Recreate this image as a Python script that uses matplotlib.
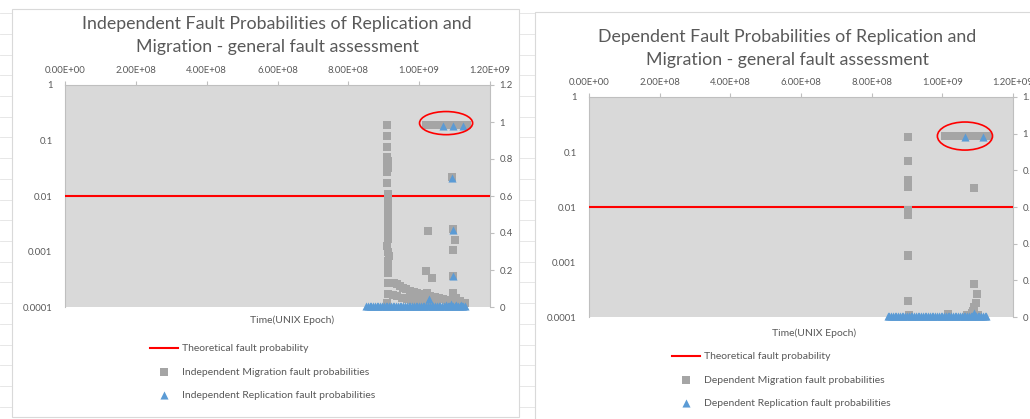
import numpy as np
import matplotlib.pyplot as plt
from matplotlib.patches import Ellipse, Rectangle

W, H = 1030, 419
plt.rcParams['font.family'] = ['Lato', 'DejaVu Sans']

# ---- axes values ----
theory_prob = 0.01
time_ticks = [0, 2e8, 4e8, 6e8, 8e8, 1e9, 1.2e9]
log_ticks = [1e-4, 1e-3, 1e-2, 1e-1, 1]
log_labels = ['0.0001', '0.001', '0.01', '0.1', '1']
prob_ticks = [0, 0.2, 0.4, 0.6, 0.8, 1.0, 1.2]
prob_labels = ['0', '0.2', '0.4', '0.6', '0.8', '1', '1.2']

# ---- independent migration (x = UNIX epoch, y = probability) ----
ind_mig_t = [9.08e8, 9.08e8, 9.10e8, 9.10e8, 9.11e8, 9.09e8, 9.11e8, 9.10e8, 9.10e8,
             9.12e8, 9.12e8, 9.11e8, 9.12e8, 9.11e8, 9.12e8, 9.12e8, 9.13e8, 9.12e8,
             9.12e8, 9.11e8, 9.10e8, 9.13e8, 9.14e8, 9.12e8, 9.13e8, 9.12e8, 9.12e8,
             9.22e8, 9.30e8, 9.37e8, 9.46e8, 9.55e8, 9.64e8, 9.74e8, 9.84e8, 9.93e8,
             1.004e9, 1.016e9, 1.030e9, 1.045e9, 1.057e9, 1.068e9, 1.078e9, 1.087e9,
             1.100e9, 1.115e9, 1.128e9,
             9.13e8, 9.25e8, 9.37e8, 9.51e8, 9.65e8, 9.80e8, 9.93e8, 1.012e9, 1.030e9, 1.050e9,
             9.10e8, 1.025e9, 1.019e9, 1.036e9, 1.022e9, 1.093e9, 1.096e9, 1.101e9, 1.095e9,
             1.095e9, 1.095e9, 1.105e9,
             1.018e9, 1.030e9, 1.042e9, 1.054e9, 1.066e9, 1.078e9, 1.090e9, 1.102e9,
             1.114e9, 1.126e9, 1.135e9]
ind_mig_p = [0.985, 0.925, 0.865, 0.81, 0.79, 0.77, 0.75, 0.73, 0.67,
             0.61, 0.585, 0.56, 0.53, 0.51, 0.48, 0.46, 0.44, 0.42,
             0.40, 0.37, 0.33, 0.295, 0.275, 0.25, 0.225, 0.185, 0.13,
             0.132, 0.128, 0.123, 0.114, 0.105, 0.096, 0.087, 0.08, 0.074,
             0.068, 0.063, 0.06, 0.056, 0.05, 0.045, 0.038, 0.033,
             0.033, 0.03, 0.02,
             0.069, 0.064, 0.06, 0.05, 0.042, 0.037, 0.033, 0.023, 0.018, 0.015,
             0.02, 0.41, 0.195, 0.157, 0.075, 0.70, 0.42, 0.36, 0.31,
             0.17, 0.075, 0.05,
             0.983, 0.983, 0.983, 0.983, 0.983, 0.983, 0.983, 0.983,
             0.983, 0.983, 0.983]

# ---- independent replication ----
ind_rep_t = [1.067e9, 1.095e9, 1.123e9, 1.093e9, 1.096e9, 1.095e9, 1.027e9,
             8.50e8, 8.55e8, 8.60e8, 8.65e8, 8.70e8, 8.75e8, 8.80e8, 8.85e8, 8.90e8, 8.95e8,
             9.00e8, 9.05e8, 9.10e8, 9.15e8, 9.20e8, 9.25e8, 9.30e8, 9.35e8, 9.40e8, 9.45e8,
             9.50e8, 9.55e8, 9.60e8, 9.65e8, 9.70e8, 9.75e8, 9.80e8, 9.85e8, 9.90e8, 9.95e8,
             1.000e9, 1.005e9, 1.010e9, 1.015e9, 1.020e9, 1.025e9, 1.030e9, 1.035e9,
             1.040e9, 1.045e9, 1.050e9, 1.055e9, 1.060e9, 1.065e9, 1.070e9, 1.075e9,
             1.080e9, 1.085e9, 1.090e9, 1.095e9, 1.100e9, 1.105e9, 1.110e9, 1.115e9,
             1.120e9, 1.125e9, 1.130e9,
             1.075e9, 1.090e9, 1.105e9, 1.118e9]
ind_rep_p = [0.98, 0.98, 0.98, 0.695, 0.418, 0.168, 0.045,
             0.003, 0.003, 0.003, 0.003, 0.003, 0.003, 0.003, 0.003, 0.003, 0.003,
             0.003, 0.003, 0.003, 0.003, 0.003, 0.003, 0.003, 0.003, 0.003, 0.003,
             0.003, 0.003, 0.003, 0.003, 0.003, 0.003, 0.003, 0.003, 0.003, 0.003,
             0.003, 0.003, 0.003, 0.003, 0.003, 0.003, 0.003, 0.003,
             0.003, 0.003, 0.003, 0.003, 0.003, 0.003, 0.003, 0.003,
             0.003, 0.003, 0.003, 0.003, 0.003, 0.003, 0.003, 0.003,
             0.003, 0.003, 0.003,
             0.012, 0.015, 0.012, 0.010]

# ---- dependent migration ----
dep_mig_t = [9.02e8, 9.02e8, 9.02e8, 9.03e8, 9.02e8, 9.02e8, 9.03e8, 9.02e8, 9.03e8,
             9.02e8, 9.04e8, 9.05e8,
             1.008e9, 1.020e9, 1.032e9, 1.044e9, 1.056e9, 1.068e9, 1.080e9, 1.092e9,
             1.104e9, 1.116e9, 1.128e9,
             1.090e9, 1.090e9, 1.097e9, 1.094e9, 1.090e9, 1.088e9, 1.085e9, 1.017e9,
             1.070e9, 1.100e9]
dep_mig_p = [0.983, 0.851, 0.747, 0.725, 0.711, 0.584, 0.57, 0.556, 0.34,
             0.334, 0.089, 0.01,
             0.987, 0.987, 0.987, 0.987, 0.987, 0.987, 0.987, 0.987,
             0.987, 0.987, 0.987,
             0.702, 0.18, 0.125, 0.078, 0.053, 0.035, 0.02, 0.015,
             0.01, 0.01]

# ---- dependent replication ----
dep_rep_t = [1.064e9, 1.116e9, 1.090e9,
             8.45e8, 8.50e8, 8.55e8, 8.60e8, 8.65e8, 8.70e8, 8.75e8, 8.80e8, 8.85e8, 8.90e8,
             8.95e8, 9.00e8, 9.05e8, 9.10e8, 9.15e8, 9.20e8, 9.25e8, 9.30e8, 9.35e8, 9.40e8,
             9.45e8, 9.50e8, 9.55e8, 9.60e8, 9.65e8, 9.70e8, 9.75e8, 9.80e8, 9.85e8, 9.90e8,
             9.95e8, 1.000e9, 1.005e9, 1.010e9, 1.015e9, 1.020e9, 1.025e9, 1.030e9,
             1.035e9, 1.040e9, 1.045e9, 1.050e9, 1.055e9, 1.060e9, 1.065e9, 1.070e9,
             1.075e9, 1.080e9, 1.085e9, 1.090e9, 1.095e9, 1.100e9, 1.105e9, 1.110e9,
             1.115e9, 1.120e9, 1.125e9]
dep_rep_p = [0.98, 0.98, 0.02,
             0.003, 0.003, 0.003, 0.003, 0.003, 0.003, 0.003, 0.003, 0.003, 0.003,
             0.003, 0.003, 0.003, 0.003, 0.003, 0.003, 0.003, 0.003, 0.003, 0.003,
             0.003, 0.003, 0.003, 0.003, 0.003, 0.003, 0.003, 0.003, 0.003, 0.003,
             0.003, 0.003, 0.003, 0.003, 0.003, 0.003, 0.003, 0.003,
             0.003, 0.003, 0.003, 0.003, 0.003, 0.003, 0.003, 0.003,
             0.003, 0.003, 0.003, 0.003, 0.003, 0.003, 0.003, 0.003,
             0.003, 0.003, 0.003]

TXT = '#595959'
AX = '#bfbfbf'


def fx(px):
    return px / W


def fy(py):
    return 1 - py / H


def draw_chart(fig, box, title, title_xy, xlab_xy, leg_xy, kind, mig, rep, circle):
    x0, y0, x1, y1 = box
    ax = fig.add_axes([fx(x0), fy(y1), fx(x1 - x0), (y1 - y0) / H])
    ax.set_facecolor('#d9d9d9')
    ax.set_yscale('log')
    ax.set_ylim(1e-4, 1)
    ax.set_xlim(time_ticks[0], time_ticks[-1])
    ax.set_yticks(log_ticks)
    ax.set_yticklabels(log_labels)
    ax.minorticks_off()
    ax.xaxis.tick_top()
    ax.set_xticks(time_ticks)
    ax.set_xticklabels(['{:.2E}'.format(t) for t in time_ticks])
    ax.tick_params(axis='x', colors=AX, labelcolor=TXT, labelsize=6.8, length=3, pad=4)
    ax.tick_params(axis='y', length=0, labelcolor=TXT, labelsize=6.8, pad=9)
    for s in ['left', 'top', 'right']:
        ax.spines[s].set_color(AX)
        ax.spines[s].set_linewidth(0.8)
    ax.spines['bottom'].set_visible(False)
    line = ax.axhline(theory_prob, color='#ff0000', lw=1.5, zorder=3,
                      label='Theoretical fault probability')

    ax2 = ax.twinx()
    ax2.set_ylim(0, 1.2)
    ax2.set_yticks(prob_ticks)
    ax2.set_yticklabels(prob_labels)
    ax2.tick_params(axis='y', colors=AX, labelcolor=TXT, labelsize=6.8, length=3, pad=4)
    for s in ax2.spines.values():
        s.set_visible(False)
    sq = ax2.scatter(mig[0], mig[1], marker='s', s=26, color='#a5a5a5', lw=0,
                     clip_on=False, zorder=2, label=kind + ' Migration fault probabilities')
    tr = ax2.scatter(rep[0], rep[1], marker='^', s=34, color='#5b9bd5', lw=0,
                     clip_on=False, zorder=3, label=kind + ' Replication fault probabilities')
    ax2.add_patch(Ellipse(circle[0], circle[1], circle[2], fill=False,
                          ec='#ff0000', lw=1.2, zorder=4, clip_on=False))

    fig.text(fx(title_xy[0]), fy(title_xy[1]), title, ha='center', va='center',
             fontsize=12.8, color=TXT, linespacing=1.5)
    fig.text(fx(xlab_xy[0]), fy(xlab_xy[1]), 'Time(UNIX Epoch)', ha='center',
             va='center', fontsize=7.5, color=TXT)
    leg = fig.legend(handles=[line, sq, tr], loc='upper left',
                     bbox_to_anchor=(fx(leg_xy[0]), fy(leg_xy[1])), frameon=False,
                     fontsize=7.5, handlelength=2.7, handletextpad=0.35,
                     labelspacing=1.35, borderpad=0, borderaxespad=0)
    for t in leg.get_texts():
        t.set_color(TXT)
    return ax


fig = plt.figure(figsize=(W / 100, H / 100), dpi=100)

# spreadsheet grid behind the two charts
for py in np.arange(13.3, H, 20.7):
    fig.add_artist(plt.Line2D([0, 1], [fy(py), fy(py)], color='#e3e3e3', lw=0.6,
                              zorder=-3))
fig.add_artist(Rectangle((fx(12), fy(417)), fx(507), (417 - 9) / H, fc='white',
                         ec='#d9d9d9', lw=0.8, zorder=-2))
fig.add_artist(Rectangle((fx(535), fy(425)), fx(520), (425 - 12) / H, fc='white',
                         ec='#d9d9d9', lw=0.8, zorder=-2))

draw_chart(fig, (65, 85, 490, 307),
           'Independent Fault Probabilities of Replication and\nMigration - general fault assessment',
           (277, 35.5), (292, 320), (150, 344), 'Independent',
           (ind_mig_t, ind_mig_p), (ind_rep_t, ind_rep_p),
           ((1.076e9, 0.994), 1.5e8, 0.125))
draw_chart(fig, (589, 97, 1013, 317),
           'Dependent Fault Probabilities of Replication and\nMigration - general fault assessment',
           (787, 48.5), (814, 333), (672, 352), 'Dependent',
           (dep_mig_t, dep_mig_p), (dep_rep_t, dep_rep_p),
           ((1.064e9, 0.987), 1.56e8, 0.153))

fig.savefig('out.png', dpi=100)
